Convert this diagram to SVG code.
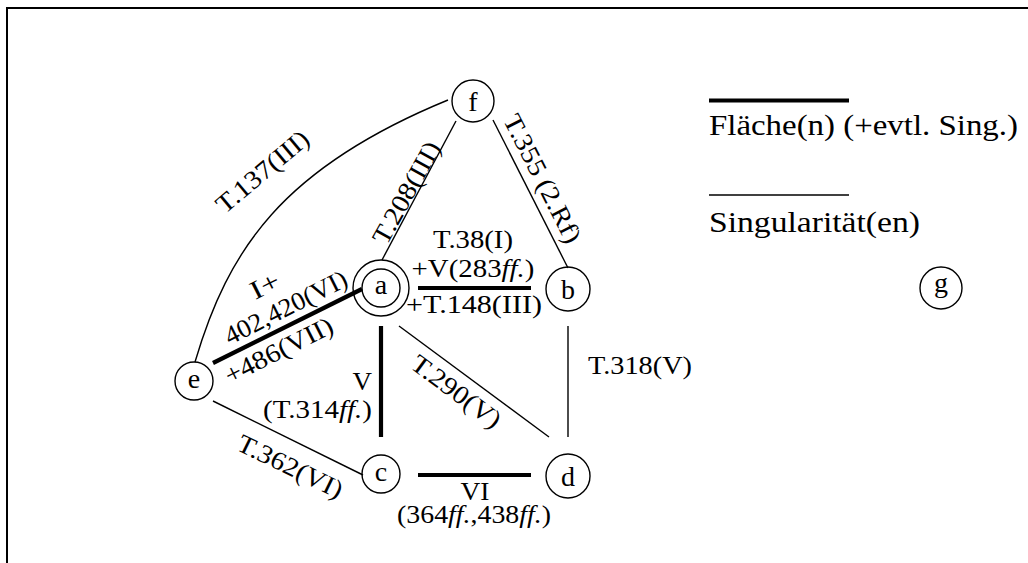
<svg xmlns="http://www.w3.org/2000/svg" width="1028" height="563" viewBox="0 0 1028 563">
<style>
text{font-family:"Liberation Serif","Times New Roman",serif;font-size:26px;fill:#000}
.m{text-anchor:middle}
.e{text-anchor:end}
.lg{font-size:30px}
.n text{font-size:28px;text-anchor:middle}
.n circle{fill:none;stroke:#000;stroke-width:1.4}
.thin{fill:none;stroke:#000;stroke-width:1.4}
.thick{fill:none;stroke:#000;stroke-width:4.2}
.i{font-style:italic}
</style>
<rect width="1028" height="563" fill="#fff"/>
<path d="M7,563 V8 H1028" fill="none" stroke="#000" stroke-width="2"/>
<g id="connectors">
<path class="thin" d="M195,362 C228,250 282,168 448,100"/>
<line class="thin" x1="456" y1="121" x2="382" y2="260"/>
<line class="thin" x1="493" y1="120" x2="568" y2="268"/>
<line class="thick" x1="418" y1="288" x2="531" y2="288"/>
<line class="thick" x1="213" y1="363" x2="362" y2="289"/>
<line class="thick" x1="381" y1="326" x2="381" y2="437"/>
<line class="thin" x1="399" y1="326" x2="549" y2="437"/>
<line class="thin" x1="568" y1="326" x2="568" y2="437"/>
<line class="thin" x1="213" y1="401" x2="363" y2="475"/>
<line class="thick" x1="418" y1="475" x2="531" y2="475"/>
</g>
<g id="edge-labels">
<text class="m" transform="translate(263,172) rotate(-40)" y="8" textLength="113" lengthAdjust="spacingAndGlyphs">T.137(III)</text>
<text class="m" transform="translate(407,193) rotate(-61)" y="8" textLength="113" lengthAdjust="spacingAndGlyphs">T.208(III)</text>
<text class="m" transform="translate(542,179) rotate(63)" y="8" textLength="141" lengthAdjust="spacingAndGlyphs">T.355 (2.Rf)</text>
<text class="m" x="473" y="248" textLength="80" lengthAdjust="spacingAndGlyphs">T.38(I)</text>
<text class="m" x="473" y="277" textLength="123" lengthAdjust="spacingAndGlyphs">+V(283<tspan class="i">ff.</tspan>)</text>
<text class="m" x="474" y="313" textLength="136" lengthAdjust="spacingAndGlyphs">+T.148(III)</text>
<text class="m" transform="translate(265,286) rotate(-26.7)" y="8" textLength="30" lengthAdjust="spacingAndGlyphs">I+</text>
<text class="m" transform="translate(286,308) rotate(-26.7)" y="8" textLength="134" lengthAdjust="spacingAndGlyphs">402,420(VI)</text>
<text class="m" transform="translate(279,351) rotate(-26.7)" y="8" textLength="118" lengthAdjust="spacingAndGlyphs">+486(VII)</text>
<text class="e" x="372" y="390" textLength="19.5" lengthAdjust="spacingAndGlyphs">V</text>
<text class="e" x="372" y="418" textLength="109" lengthAdjust="spacingAndGlyphs">(T.314<tspan class="i">ff.</tspan>)</text>
<text class="m" transform="translate(456,392) rotate(36.5)" y="8" textLength="105" lengthAdjust="spacingAndGlyphs">T.290(V)</text>
<text class="m" transform="translate(290,467) rotate(26)" y="8" textLength="114" lengthAdjust="spacingAndGlyphs">T.362(VI)</text>
<text class="m" x="475" y="500" textLength="29" lengthAdjust="spacingAndGlyphs">VI</text>
<text class="m" x="474" y="523" textLength="154" lengthAdjust="spacingAndGlyphs">(364<tspan class="i">ff.</tspan>,438<tspan class="i">ff.</tspan>)</text>
<text x="588" y="374" textLength="104" lengthAdjust="spacingAndGlyphs">T.318(V)</text>
</g>
<g id="legend">
<line class="thick" x1="709" y1="100.5" x2="849" y2="100.5"/>
<text class="lg" x="709" y="135" textLength="309" lengthAdjust="spacingAndGlyphs">Fläche(n) (+evtl. Sing.)</text>
<line class="thin" x1="709" y1="195" x2="849" y2="195"/>
<text class="lg" x="709" y="232" textLength="211" lengthAdjust="spacingAndGlyphs">Singularität(en)</text>
</g>
<g id="node-a" class="n"><circle cx="381" cy="288" r="19"/><circle cx="381" cy="288" r="28"/><text x="381" y="294">a</text></g>
<g id="node-b" class="n"><circle cx="568" cy="289" r="22"/><text x="568" y="298.5">b</text></g>
<g id="node-c" class="n"><circle cx="381" cy="474" r="19"/><text x="381" y="480.5">c</text></g>
<g id="node-d" class="n"><circle cx="568" cy="476" r="22"/><text x="568" y="485.5">d</text></g>
<g id="node-e" class="n"><circle cx="194" cy="381" r="19"/><text x="194" y="387.5">e</text></g>
<g id="node-f" class="n"><circle cx="473" cy="101" r="21"/><text x="473" y="110.5">f</text></g>
<g id="node-g" class="n"><circle cx="941" cy="288" r="21"/><text x="941" y="292">g</text></g>
</svg>
